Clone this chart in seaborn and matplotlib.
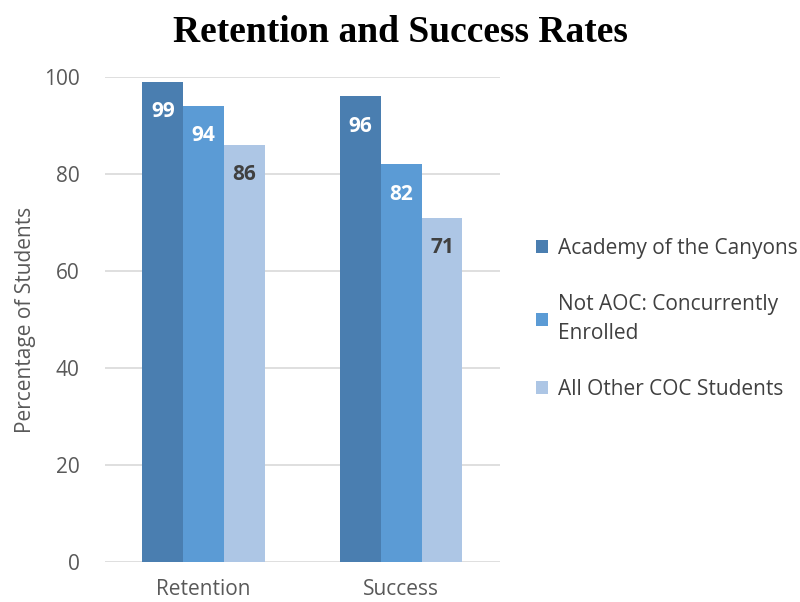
import numpy as np
import pandas as pd
import seaborn as sns
import matplotlib.pyplot as plt

measures = ["Retention", "Success"]
groups = ["Academy of the Canyons", "Not AOC: Concurrently\nEnrolled", "All Other COC Students"]
retention = [99, 94, 86]
success = [96, 82, 71]
colors = ["#4a7eb0", "#5b9bd5", "#adc6e5"]
label_colors = ["white", "white", "#404040"]

rows = []
for g, r, s in zip(groups, retention, success):
    rows.append(("Retention", g, r))
    rows.append(("Success", g, s))
df = pd.DataFrame(rows, columns=["measure", "group", "pct"])

sns.set_style("white")
plt.rcParams["font.family"] = ["Open Sans", "DejaVu Sans"]

fig = plt.figure(figsize=(8, 6.02), dpi=100)
ax = fig.add_axes([0.131, 0.0664, 0.494, 0.8056])

sns.barplot(data=df, x="measure", y="pct", hue="group", order=measures,
            hue_order=groups, palette=colors, width=0.62, saturation=1,
            linewidth=0, ax=ax, legend=True)

for cont, lc in zip(ax.containers, label_colors):
    ax.bar_label(cont, padding=-29, fontsize=15, fontweight="bold", color=lc)

ax.set_ylim(0, 100)
ax.set_yticks(np.arange(0, 101, 20))
ax.yaxis.grid(True, color="#d9d9d9", linewidth=1.2)
ax.set_axisbelow(True)
for sp in ax.spines.values():
    sp.set_visible(False)
ax.tick_params(axis="y", length=0, labelsize=15, colors="#595959", pad=18)
ax.tick_params(axis="x", length=0, labelsize=15, colors="#595959", pad=12)
ax.set_xlabel("")
ax.set_ylabel("Percentage of Students", fontsize=15, color="#595959", labelpad=6)

handles, labels = ax.get_legend_handles_labels()
ax.get_legend().remove()
leg = fig.legend(handles, labels, loc="center left", bbox_to_anchor=(0.646, 0.47),
                 frameon=False, fontsize=15, labelcolor="#404040",
                 handlelength=0.6, handleheight=0.6, handletextpad=0.5,
                 labelspacing=1.7)
for t in leg.get_texts():
    t.set_linespacing(1.45)

fig.suptitle("Retention and Success Rates", y=0.975, fontsize=27,
             fontweight="bold", family="Liberation Serif", color="black")

fig.savefig("out.png", dpi=100)
